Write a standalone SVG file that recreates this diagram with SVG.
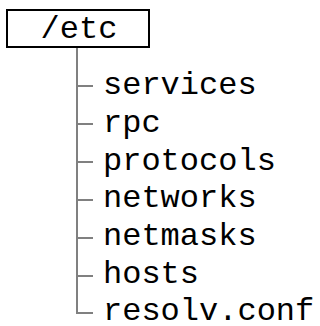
<svg xmlns="http://www.w3.org/2000/svg" width="320" height="326" viewBox="0 0 320 326">
<style>
text{font-family:"Liberation Mono","Courier New",monospace;font-size:32px;fill:#000}
.c{fill:none;stroke:#808080;stroke-width:2}
</style>
<rect width="320" height="326" fill="#fff"/>
<g id="connectors">
<path class="c" d="M77 47V313H93M77 86H93M77 124H93M77 162H93M77 200H93M77 238H93M77 276H93"/>
</g>
<g id="root">
<rect x="7" y="10" width="142" height="37" fill="#fff" stroke="#000" stroke-width="2"/>
<text x="79" y="38" text-anchor="middle">/etc</text>
</g>
<g id="services"><text x="103" y="94">services</text></g>
<g id="rpc"><text x="103" y="132">rpc</text></g>
<g id="protocols"><text x="103" y="170">protocols</text></g>
<g id="networks"><text x="103" y="207">networks</text></g>
<g id="netmasks"><text x="103" y="245">netmasks</text></g>
<g id="hosts"><text x="103" y="283">hosts</text></g>
<g id="resolv"><text x="103" y="320">resolv.conf</text></g>
</svg>
